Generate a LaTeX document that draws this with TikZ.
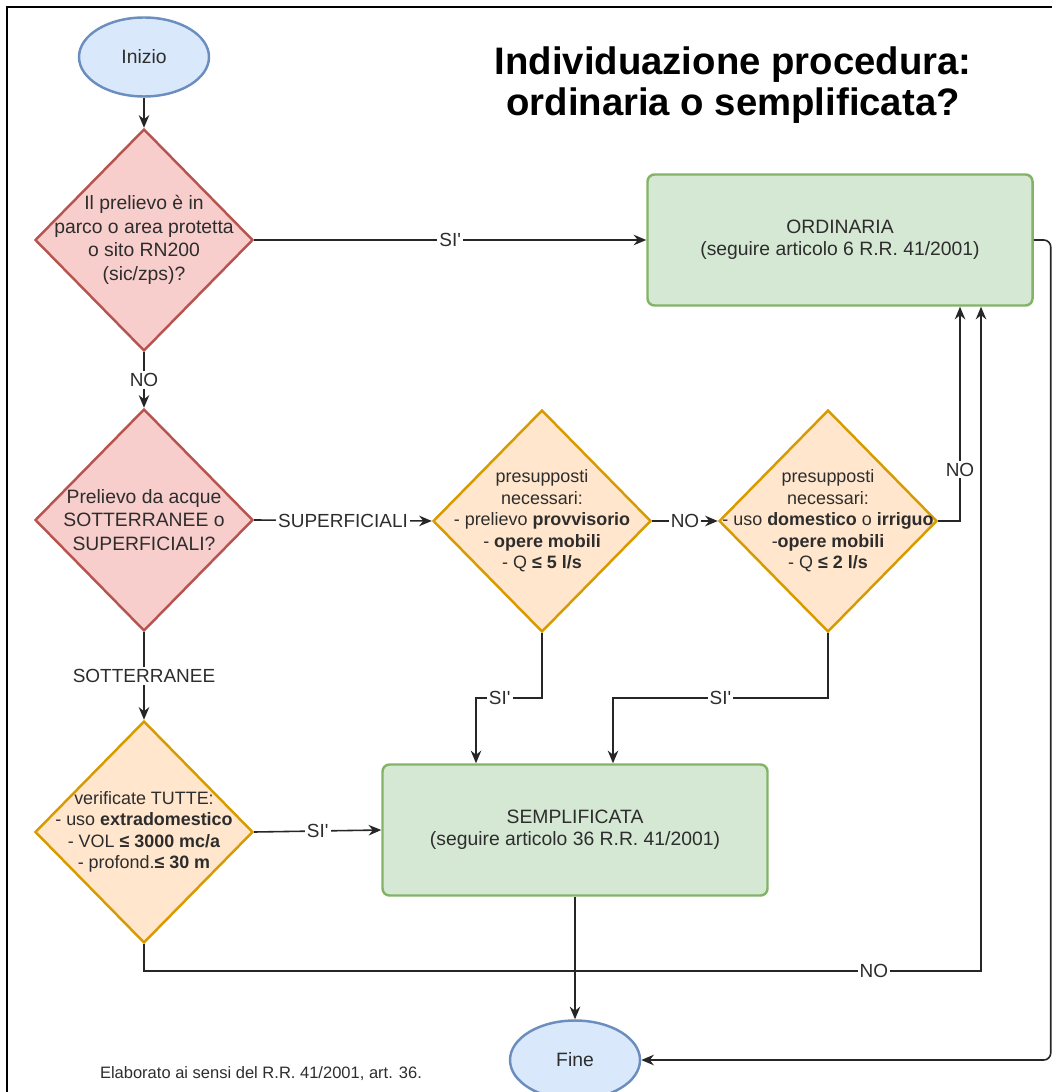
\documentclass[tikz,border=0pt]{standalone}
\usepackage{fontspec}
\setmainfont{Liberation Sans}
\usepackage{tikz}
\usetikzlibrary{shapes.geometric,arrows.meta,positioning,calc}
\usepackage{xcolor}
\definecolor{StartBlue}{RGB}{218,232,252}
\definecolor{StartBlueLine}{RGB}{108,142,191}
\definecolor{AskRed}{RGB}{248,206,204}
\definecolor{AskRedLine}{RGB}{184,84,80}
\definecolor{AskOrange}{RGB}{255,230,204}
\definecolor{AskOrangeLine}{RGB}{215,155,0}
\definecolor{ProcGreen}{RGB}{213,232,212}
\definecolor{ProcGreenLine}{RGB}{130,179,102}
\definecolor{TxtGray}{RGB}{45,45,45}
\newcommand{\si}{SI\textquotesingle}

\begin{document}
\begin{tikzpicture}[
  >={Stealth[length=3.6pt,width=3pt]},
  term/.style={ellipse,draw=StartBlueLine,fill=StartBlue,line width=0.7pt,
               minimum width=1.30cm,minimum height=0.79cm,inner sep=0pt,
               font=\fontsize{5.5}{6.7}\selectfont,text=TxtGray},
  askred/.style={diamond,draw=AskRedLine,fill=AskRed,line width=0.7pt,
                 minimum width=2.18cm,minimum height=2.22cm,inner sep=0pt},
  askorange/.style={diamond,draw=AskOrangeLine,fill=AskOrange,line width=0.7pt,
                    minimum width=2.18cm,minimum height=2.22cm,inner sep=0pt},
  redtxt/.style={align=center,inner sep=0pt,text=TxtGray,font=\fontsize{5.5}{6.7}\selectfont},
  orangetxt/.style={align=center,inner sep=0pt,text=TxtGray,font=\fontsize{5.1}{6.1}\selectfont},
  proc/.style={draw=ProcGreenLine,fill=ProcGreen,rounded corners=0.07cm,line width=0.7pt,
               minimum width=3.85cm,minimum height=1.31cm,align=center,
               font=\fontsize{5.5}{6.3}\selectfont,text=TxtGray},
  link/.style={->,line width=0.45pt,black!85},
  lbl/.style={fill=white,inner sep=0.6pt,text=TxtGray,font=\fontsize{5.4}{6.4}\selectfont},
]
\useasboundingbox (0,0) rectangle (10.52,-10.92);
% frame
\draw[line width=0.6pt] (0.07,-11.00) -- (0.07,-0.07) -- (10.60,-0.07);

\node[font=\bfseries\fontsize{10.9}{11.7}\selectfont,align=center] (title) at (7.33,-0.85)
  {Individuazione procedura:\\ordinaria o semplificata?};

% shapes
\node[term] (inizio) at (1.44,-0.57) {Inizio};
\node[askred] (d1) at (1.44,-2.40) {};
\node[redtxt] (t1) at (d1) {Il prelievo è in\\parco o area protetta\\o sito RN200\\(sic/zps)?};
\node[askred] (d2) at (1.44,-5.20) {};
\node[redtxt] (t2) at (d2) {Prelievo da acque\\SOTTERRANEE o\\SUPERFICIALI?};
\node[askorange] (d3) at (5.42,-5.21) {};
\node[orangetxt] (t3) at (d3) {presupposti\\necessari:\\- prelievo \textbf{provvisorio}\\- \textbf{opere mobili}\\- Q \textbf{≤ 5 l/s}};
\node[askorange] (d4) at (8.28,-5.21) {};
\node[orangetxt] (t4) at (d4) {presupposti\\necessari:\\- uso \textbf{domestico} o \textbf{irriguo}\\-\textbf{opere mobili}\\- Q \textbf{≤ 2 l/s}};
\node[askorange] (d5) at (1.44,-8.32) {};
\node[orangetxt] (t5) at (d5) {verificate TUTTE:\\- uso \textbf{extradomestico}\\- VOL \textbf{≤ 3000 mc/a}\\- profond.\textbf{≤ 30 m}};
\node[proc] (ord) at (8.40,-2.40) {ORDINARIA\\(seguire articolo 6 R.R. 41/2001)};
\node[proc] (semp) at (5.75,-8.30) {SEMPLIFICATA\\(seguire articolo 36 R.R. 41/2001)};
\node[term] (fine) at (5.75,-10.60) {Fine};
\node[font=\fontsize{4.7}{5.6}\selectfont,text=TxtGray] (nota) at (2.61,-10.74)
  {Elaborato ai sensi del R.R. 41/2001, art. 36.};

% connectors
\draw[link] (inizio) -- (d1);
\draw[link] (d1.east) -- (ord.west) node[lbl,midway]{\si};
\draw[link] (d1.south) -- (d2.north) node[lbl,midway]{NO};
\draw[link] (d2.east) -- (d3.west) node[lbl,midway]{SUPERFICIALI};
\draw[link] (d2.south) -- (d5.north) node[lbl,midway]{SOTTERRANEE};
\draw[link] (d3.east) -- (d4.west) node[lbl,midway]{NO};
\draw[link] (d4.east) -| node[lbl,pos=0.62]{NO} ([xshift=1.20cm]ord.south);
\draw[link] (d3.south) -- ++(0,-0.65) -| node[lbl,pos=0.32]{\si} ([xshift=-0.99cm]semp.north);
\draw[link] (d4.south) -- ++(0,-0.65) -| node[lbl,pos=0.25]{\si} ([xshift=0.38cm]semp.north);
\draw[link] (d5.east) -- (semp.west) node[lbl,midway]{\si};
\draw[link] (d5.south) -- ++(0,-0.27) -| node[lbl,pos=0.436]{NO} ([xshift=1.41cm]ord.south);
\draw[link] (semp) -- (fine);
\draw[link,rounded corners=0.07cm] (ord.east) -- ++(0.17,0) |- (fine.east);
\end{tikzpicture}
\end{document}
